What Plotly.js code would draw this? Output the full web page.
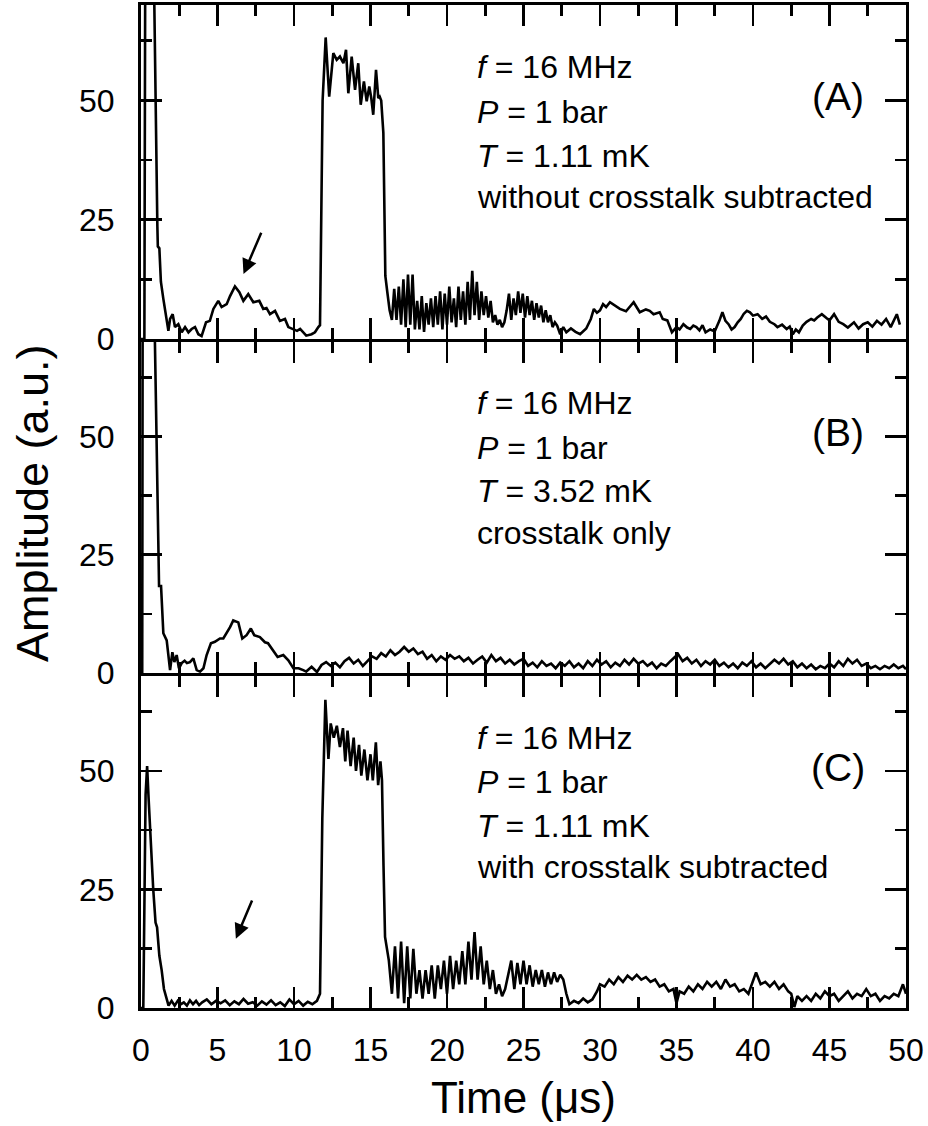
<!DOCTYPE html>
<html>
<head>
<meta charset="utf-8">
<script src="https://cdn.plot.ly/plotly-3.0.1.min.js"></script>
<style>
  html, body { margin: 0; padding: 0; background: #ffffff; }
  #chart { width: 928px; height: 1126px; }
</style>
</head>
<body>
<div id="chart"></div>
<script>
// ---------- Data ----------
// Panel A: without crosstalk subtracted (T = 1.11 mK)
const timeA = [0, 0.22, 0.3, 0.7, 1.07, 1.1, 1.2, 1.3, 1.46, 1.57, 1.79, 1.9, 2.07, 2.22, 2.44, 2.66, 2.88, 3.1, 3.31, 3.53, 3.75, 3.96, 4.25, 4.5, 4.73, 5.05, 5.27, 5.6, 5.82, 6.14, 6.43, 6.69, 7.01, 7.34, 7.73, 7.99, 8.2, 8.43, 8.76, 9.08, 9.41, 9.63, 9.96, 10.2, 10.4, 10.6, 10.8, 11.15, 11.37, 11.59, 11.7, 11.87, 12.07, 12.3, 12.57, 12.79, 13.0, 13.23, 13.4, 13.55, 13.77, 13.99, 14.2, 14.36, 14.57, 14.75, 14.92, 15.05, 15.18, 15.36, 15.51, 15.6, 15.7, 15.84, 15.97,
  16.1, 16.25, 16.4, 16.55, 16.7, 16.85, 17.0, 17.15, 17.3, 17.45, 17.6, 17.75, 17.9, 18.05, 18.2, 18.35, 18.5, 18.65, 18.8, 18.95, 19.1, 19.25, 19.4, 19.55, 19.7, 19.85, 20.0, 20.15, 20.3, 20.45, 20.6, 20.75, 20.9, 21.05, 21.2, 21.35, 21.5, 21.65, 21.8, 21.95, 22.1, 22.25, 22.4, 22.55, 22.7, 22.85, 23.0, 23.15, 23.3, 23.45, 23.6, 23.75, 23.9, 24.05, 24.2, 24.35, 24.5, 24.65, 24.8, 24.95, 25.1, 25.25, 25.4, 25.55, 25.7, 25.85, 26.0, 26.15, 26.3, 26.45, 26.6, 26.75, 26.9, 27.05, 27.2, 27.4, 27.6, 27.8, 28.1, 28.4, 28.7, 29.1, 29.4, 29.6, 29.8, 30.0, 30.2, 30.4, 30.65, 31.0, 31.3, 31.7, 32.0, 32.2, 32.6, 33.0, 33.25, 33.5, 33.9, 34.1, 34.4, 34.7, 35.0, 35.2, 35.45, 35.7, 35.9, 36.1, 36.3, 36.5, 36.7, 36.9, 37.2, 37.5, 37.8, 38.0, 38.2, 38.4, 38.6, 38.8, 39.0, 39.2, 39.4, 39.6, 39.8, 40.0, 40.3, 40.6, 40.85, 41.1, 41.4, 41.6, 41.9, 42.2, 42.4, 42.6, 42.8, 43.0, 43.25, 43.5, 43.8, 44.0, 44.2, 44.5, 44.8, 45.0, 45.3, 45.6, 45.9, 46.2, 46.6, 46.9, 47.2, 47.5, 47.8, 48.1, 48.4, 48.7, 49.0, 49.4, 49.6, 49.7, 50.0];
const ampA = [0, 0, 110, 110, 23.6, 19.4, 19.0, 12.0, 8.4, 6.3, 1.7, 4.2, 5.2, 2.5, 3.1, 1.4, 2.5, 1.4, 2.1, 2.5, 1.0, 0.6, 3.5, 3.8, 6.3, 8.0, 6.7, 7.3, 9.0, 11.0, 9.8, 8.0, 9.4, 7.7, 8.0, 6.3, 6.5, 5.2, 5.9, 3.8, 4.2, 2.5, 2.1, 1.7, 2.1, 1.4, 0.7, 1.0, 1.4, 2.5, 2.9, 50.0, 63.2, 50.8, 59.9, 58.5, 59.2, 57.8, 60.6, 51.5, 59.2, 52.2, 57.8, 49.1, 54.0, 49.8, 52.9, 50.5, 47.0, 56.4, 50.5, 50.8, 50.0, 43.2, 13.2,
  9.8, 6.0, 4.0, 10.5, 4.0, 11.0, 3.0, 12.5, 2.5, 13.5, 3.0, 13.5, 2.0, 8.0, 2.0, 9.0, 1.5, 7.5, 3.0, 8.5, 2.5, 9.0, 3.0, 10.0, 2.0, 9.5, 3.0, 11.0, 3.5, 8.5, 2.5, 11.0, 4.0, 10.0, 3.0, 12.0, 4.0, 14.3, 5.0, 12.0, 4.0, 10.0, 5.0, 9.0, 4.5, 8.0, 3.5, 5.0, 3.0, 4.0, 2.5, 3.5, 6.0, 9.5, 4.0, 8.5, 5.0, 10.0, 5.5, 9.5, 4.5, 9.0, 5.0, 8.0, 4.0, 7.5, 4.5, 7.0, 3.5, 6.0, 3.5, 5.0, 2.5, 3.5, 2.8, 1.0, 2.5, 1.4, 2.2, 1.5, 1.0, 2.2, 4.2, 6.3, 5.5, 6.0, 7.3, 6.7, 7.7, 7.0, 6.3, 5.8, 7.0, 7.7, 5.6, 6.2, 5.9, 5.2, 5.6, 4.2, 3.9, 1.4, 2.5, 2.0, 3.1, 2.4, 2.1, 2.8, 2.5, 1.8, 2.9, 1.4, 2.0, 1.6, 3.8, 5.6, 3.8, 3.1, 2.0, 2.5, 3.5, 4.2, 5.3, 5.9, 5.6, 4.9, 5.2, 4.2, 4.7, 3.6, 3.1, 2.5, 3.0, 2.1, 2.6, 1.0, 2.0, 1.4, 2.8, 3.6, 4.2, 3.9, 4.5, 5.2, 4.4, 3.9, 5.2, 3.6, 3.1, 2.4, 3.5, 2.2, 3.1, 3.5, 2.6, 3.8, 3.0, 4.2, 2.5, 5.2, 3.0];

// Panel B: crosstalk only (T = 3.52 mK)
const timeB = [0, 0.08, 0.12, 0.7, 1.13, 1.18, 1.31, 1.46, 1.68, 1.79, 1.9, 2.05, 2.18, 2.33, 2.48, 2.66, 2.85, 3.0, 3.2, 3.42, 3.64, 3.86, 4.08, 4.29, 4.57, 4.83, 5.16, 5.38, 5.6, 5.82, 6.03, 6.36, 6.62, 6.9, 7.18, 7.4, 7.77, 8.1, 8.3, 8.65, 8.93, 9.3, 9.63, 9.96, 10.3, 10.6, 10.8, 11.15, 11.5, 11.8, 12.1, 12.4, 12.7, 13.0, 13.3, 13.6, 13.9, 14.2, 14.5, 14.8, 15.1, 15.4, 15.7, 16.0, 16.3, 16.6, 16.9, 17.2, 17.5, 17.8, 18.1, 18.4, 18.7, 19.0, 19.3, 19.6, 19.9, 20.2, 20.5, 20.8, 21.1, 21.4, 21.7, 22.0, 22.3, 22.6, 22.9, 23.2, 23.5, 23.8, 24.1, 24.4, 24.7, 25.0, 25.3, 25.6, 25.9, 26.2, 26.5, 26.8, 27.1, 27.4, 27.7, 28.0, 28.3, 28.6, 28.9, 29.2, 29.5, 29.8, 30.1, 30.4, 30.7, 31.0, 31.3, 31.6, 31.9, 32.2, 32.5, 32.8, 33.1, 33.4, 33.7, 34.0, 34.3, 34.6, 34.9, 35.1, 35.4, 35.7, 36.0, 36.3, 36.6, 36.9, 37.2, 37.5, 37.8, 38.1, 38.4, 38.7, 39.0, 39.3, 39.6, 39.9, 40.2, 40.5, 40.8, 41.1, 41.4, 41.7, 42.0, 42.3, 42.6, 42.9, 43.2, 43.5, 43.8, 44.1, 44.4, 44.7, 45.0, 45.3, 45.6, 45.9, 46.2, 46.5, 46.8, 47.1, 47.4, 47.7, 48.0, 48.3, 48.6, 48.9, 49.2, 49.5, 49.8, 50.0];
const ampB = [0, 0, 110, 110, 27.9, 18.4, 18.4, 8.4, 6.9, 4.2, 0.6, 4.4, 2.3, 3.8, 1.0, 2.1, 2.6, 2.1, 2.3, 3.1, 0.6, 0.3, 1.0, 3.8, 6.3, 6.6, 7.3, 7.3, 8.4, 9.7, 11.1, 10.7, 7.3, 8.0, 9.4, 8.0, 7.6, 6.5, 6.3, 4.8, 3.4, 3.8, 2.7, 1.0, 1.0, 0.6, 0.3, 1.3, 0.2, 1.7, 2.3, 1.5, 2.2, 1.2, 2.5, 3.2, 2.0, 2.8, 1.5, 2.5, 3.5, 3.0, 4.2, 3.5, 4.8, 3.8, 4.5, 5.5, 4.5, 5.2, 4.0, 4.5, 3.0, 3.8, 2.5, 3.5, 2.8, 3.8, 3.0, 3.5, 2.5, 3.2, 2.0, 2.8, 3.5, 2.2, 3.8, 2.5, 3.2, 2.0, 2.8, 1.8, 2.5, 3.0, 1.5, 2.2, 1.2, 2.5, 1.5, 2.0, 1.0, 2.2, 1.5, 2.5, 1.2, 2.0, 1.0, 2.5, 1.5, 2.8, 1.8, 2.5, 1.2, 2.2, 1.5, 2.8, 1.8, 3.0, 2.0, 2.5, 1.5, 2.2, 1.0, 2.0, 1.5, 2.5, 3.5, 4.0, 2.5, 3.2, 2.0, 2.8, 1.5, 2.5, 1.8, 2.8, 1.5, 2.2, 1.2, 2.0, 1.0, 2.2, 1.5, 2.5, 1.2, 2.0, 1.0, 1.8, 2.8, 2.0, 3.0, 1.8, 2.5, 1.2, 2.0, 1.0, 1.8, 0.8, 1.5, 1.0, 2.0, 1.2, 2.5, 1.5, 3.0, 2.0, 2.8, 1.5, 2.0, 1.0, 1.5, 0.8, 1.5, 1.0, 1.8, 1.0, 1.5, 0.8];

// Panel C: with crosstalk subtracted (T = 1.11 mK)
const timeC = [0, 0.15, 0.3, 0.4, 0.5, 0.65, 0.8, 0.95, 1.05, 1.2, 1.35, 1.5, 1.65, 1.8, 2.0, 2.2, 2.4, 2.6, 2.8, 3.0, 3.2, 3.4, 3.6, 3.8, 4.0, 4.3, 4.6, 4.9, 5.2, 5.5, 5.8, 6.1, 6.4, 6.7, 7.0, 7.3, 7.6, 7.9, 8.2, 8.5, 8.8, 9.1, 9.4, 9.7, 10.0, 10.3, 10.6, 10.9, 11.2, 11.5, 11.7, 11.85, 12.05, 12.25, 12.4, 12.6, 12.8, 13.0, 13.2, 13.35, 13.5, 13.7, 13.9, 14.05, 14.25, 14.4, 14.6, 14.8, 15.0, 15.15, 15.35, 15.5, 15.65, 15.75, 15.85, 15.95,
  16.2, 16.4, 16.6, 16.8, 17.0, 17.2, 17.4, 17.6, 17.8, 18.0, 18.2, 18.4, 18.6, 18.8, 19.0, 19.2, 19.4, 19.6, 19.8, 20.0, 20.2, 20.4, 20.6, 20.8, 21.0, 21.2, 21.4, 21.6, 21.8, 22.0, 22.2, 22.4, 22.6, 22.8, 23.0, 23.2, 23.4, 23.6, 23.8, 24.0, 24.2, 24.4, 24.6, 24.8, 25.0, 25.2, 25.4, 25.6, 25.8, 26.0, 26.2, 26.4, 26.6, 26.8, 27.0, 27.2, 27.4, 27.6, 27.8, 28.0, 28.3, 28.6, 28.9, 29.2, 29.5, 29.8, 30.0, 30.3, 30.6, 30.9, 31.2, 31.5, 31.8, 32.1, 32.4, 32.7, 33.0, 33.3, 33.6, 33.9, 34.2, 34.5, 34.8, 35.0, 35.2, 35.5, 35.8, 36.1, 36.4, 36.7, 37.0, 37.3, 37.6, 37.9, 38.2, 38.5, 38.8, 39.1, 39.4, 39.7, 40.0, 40.2, 40.5, 40.8, 41.1, 41.4, 41.7, 42.0, 42.3, 42.5, 42.7, 42.9, 43.2, 43.5, 43.8, 44.1, 44.4, 44.7, 45.0, 45.3, 45.6, 45.9, 46.2, 46.5, 46.8, 47.1, 47.4, 47.7, 48.0, 48.3, 48.6, 48.9, 49.2, 49.5, 49.8, 50.0];
const ampC = [0, 0, 45, 51, 44, 33, 25, 18, 17, 11, 8, 4, 2, 0.5, 1.5, 0.5, 1.5, 0.8, 1.2, 0.5, 1.6, 0.8, 1.5, 0.6, 1.2, 1.8, 0.8, 1.5, 1.0, 1.6, 0.6, 1.4, 0.8, 1.9, 0.9, 1.2, 0.5, 1.4, 0.7, 1.6, 0.6, 1.2, 0.4, 1.8, 0.8, 1.5, 0.5, 1.3, 0.8, 1.5, 3.0, 40, 65, 52.5, 60, 57, 59.5, 55, 59, 52, 58.5, 51, 57, 50, 55.5, 49, 54.5, 48, 53.5, 48, 56, 47, 52, 48, 30, 15,
  10, 3, 13, 2, 14, 1, 13, 2, 12.5, 3, 8, 2, 8, 3, 9, 2, 9, 4, 10, 3, 11, 4, 10, 5, 12, 5, 14, 6, 16, 6, 13, 5, 10, 4, 8, 3, 5, 2.5, 4, 7, 10, 4, 9.5, 5, 10, 5, 9, 4.5, 8, 5, 8, 4.5, 7.5, 5, 7.5, 5.5, 7, 6, 3, 0.8, 1.5, 1.0, 2.0, 1.2, 1.8, 3.5, 5.0, 4.5, 6.0, 5.0, 6.5, 5.5, 6.8, 6.0, 7.0, 6.0, 6.5, 5.5, 6.0, 4.5, 5.0, 3.5, 4.0, 1.0, 3.5, 3.0, 4.5, 3.5, 5.0, 4.0, 5.5, 4.5, 5.5, 4.0, 6.0, 4.5, 5.0, 3.5, 4.0, 3.0, 6.0, 7.5, 5.0, 5.5, 4.5, 5.5, 4.0, 5.0, 3.5, 3.0, 0.2, 2.5, 1.5, 2.5, 1.5, 3.0, 2.0, 3.5, 2.5, 3.0, 1.5, 2.5, 3.5, 2.0, 3.0, 2.5, 4.0, 2.5, 3.0, 1.5, 2.5, 2.0, 3.0, 2.5, 5.0, 3.0];

// Text
const panelLabels = ["(A)", "(B)", "(C)"];
const freqLines = ["<i>f</i> = 16 MHz", "<i>f</i> = 16 MHz", "<i>f</i> = 16 MHz"];
const pressLines = ["<i>P</i> = 1 bar", "<i>P</i> = 1 bar", "<i>P</i> = 1 bar"];
const tempLines = ["<i>T</i> = 1.11 mK", "<i>T</i> = 3.52 mK", "<i>T</i> = 1.11 mK"];
const noteLines = ["without crosstalk subtracted", "crosstalk only", "with crosstalk subtracted"];
const xTitle = "Time (μs)";
const yTitle = "Amplitude (a.u.)";

// ---------- Layout ----------
const FONT = "'Liberation Sans', Arial, Helvetica, sans-serif";
const lineStyle = {color: "#000", width: 2.6};

// panel order top->bottom: A (x3,y3), B (x2,y2), C (x,y)
const traces = [
  {x: timeA, y: ampA, xaxis: "x3", yaxis: "y3", mode: "lines", line: lineStyle, hoverinfo: "skip"},
  {x: timeB, y: ampB, xaxis: "x2", yaxis: "y2", mode: "lines", line: lineStyle, hoverinfo: "skip"},
  {x: timeC, y: ampC, xaxis: "x", yaxis: "y", mode: "lines", line: lineStyle, hoverinfo: "skip"}
];

function xAxis(anchor, labels) {
  return {
    anchor: anchor, range: [0, 50], tick0: 0, dtick: 5,
    ticks: "inside", ticklen: 21, tickwidth: 2.6, tickcolor: "#000",
    minor: {dtick: 2.5, tick0: 0, ticks: "inside", ticklen: 11, tickwidth: 2.6, tickcolor: "#000"},
    showline: true, linewidth: 3, linecolor: "#000", mirror: "ticks",
    showgrid: false, zeroline: false, showticklabels: labels,
    tickfont: {family: FONT, size: 32, color: "#000"},
    ticklabelstandoff: 12
  };
}
function yAxis(domain, anchor) {
  return {
    domain: domain, anchor: anchor, range: [0, 70], tick0: 0, dtick: 25,
    ticks: "inside", ticklen: 21, tickwidth: 2.6, tickcolor: "#000",
    minor: {dtick: 12.5, tick0: 0, ticks: "inside", ticklen: 11, tickwidth: 2.6, tickcolor: "#000"},
    showline: true, linewidth: 3, linecolor: "#000", mirror: "ticks",
    showgrid: false, zeroline: false,
    tickfont: {family: FONT, size: 32, color: "#000"},
    ticklabelstandoff: 17
  };
}

const panelAxes = [["x3", "y3"], ["x2", "y2"], ["x", "y"]];
const annotations = [];
const textYs = [57.0, 47.6, 38.4, 29.7];
for (let i = 0; i < 3; i++) {
  const [xa, ya] = panelAxes[i];
  const lines = [freqLines[i], pressLines[i], tempLines[i], noteLines[i]];
  for (let k = 0; k < 4; k++) {
    annotations.push({xref: xa, yref: ya, x: 21.8, y: textYs[k], xanchor: "left", yanchor: "middle",
      text: lines[k], showarrow: false, font: {family: FONT, size: 32, color: "#000"}});
  }
  annotations.push({xref: xa, yref: ya, x: 45.55, y: 50.8, xanchor: "center", yanchor: "middle",
    text: panelLabels[i], showarrow: false, font: {family: FONT, size: 39, color: "#000"}});
}
// arrows (A and C)
annotations.push({xref: "x3", yref: "y3", axref: "x3", ayref: "y3", x: 6.7, y: 13.6, ax: 7.9, ay: 22.6,
  text: "", showarrow: true, arrowhead: 2, arrowsize: 1.2, arrowwidth: 2.5, arrowcolor: "#000"});
annotations.push({xref: "x", yref: "y", axref: "x", ayref: "y", x: 6.2, y: 14.6, ax: 7.3, ay: 23.0,
  text: "", showarrow: true, arrowhead: 2, arrowsize: 1.2, arrowwidth: 2.5, arrowcolor: "#000"});
// axis titles
annotations.push({xref: "paper", yref: "paper", x: -0.141, y: 0.5035, xanchor: "center", yanchor: "middle",
  textangle: -90, text: yTitle, showarrow: false, font: {family: FONT, size: 45, color: "#000"}});
annotations.push({xref: "paper", yref: "paper", x: 0.5, y: -0.0897, xanchor: "center", yanchor: "middle",
  text: xTitle, showarrow: false, font: {family: FONT, size: 44, color: "#000"}});

const layout = {
  width: 928, height: 1126,
  margin: {l: 141, r: 22, t: 5, b: 118},
  paper_bgcolor: "#fff", plot_bgcolor: "#fff",
  showlegend: false,
  xaxis: xAxis("y", true),
  xaxis2: xAxis("y2", false),
  xaxis3: xAxis("y3", false),
  yaxis: yAxis([0, 0.331], "x"),
  yaxis2: yAxis([0.334, 0.664], "x2"),
  yaxis3: yAxis([0.667, 1], "x3"),
  annotations: annotations,
  font: {family: FONT, color: "#000"}
};

Plotly.newPlot("chart", traces, layout, {displayModeBar: false, staticPlot: true});
</script>
</body>
</html>
